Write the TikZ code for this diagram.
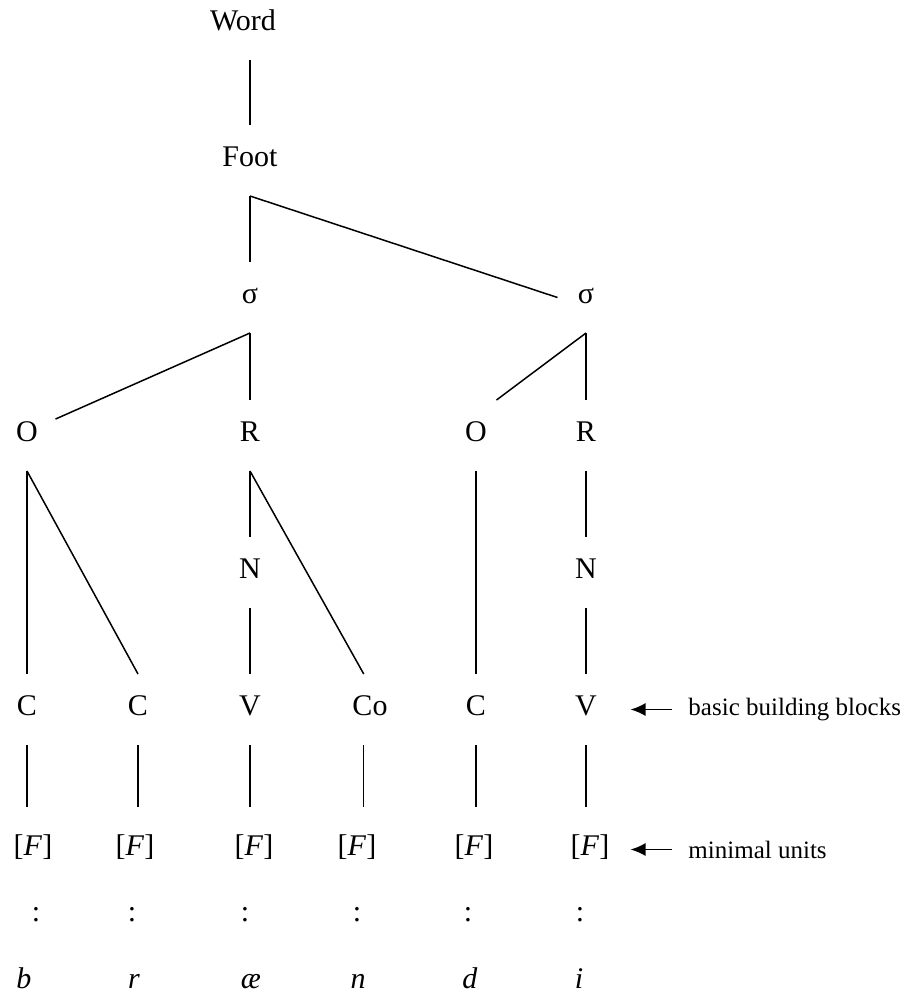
\documentclass[tikz,border=0pt]{standalone}
\usepackage{fontspec}
\setmainfont{Liberation Serif}
\usetikzlibrary{arrows.meta}

\begin{document}
\begin{tikzpicture}[x=0.4pt, y=-0.4pt,
    lab/.style={inner sep=0pt, minimum width=22.4pt, minimum height=28pt,
      text height=0.7em, text depth=0.2em, font=\fontsize{12}{14}\selectfont},
    flab/.style={lab, minimum height=33.6pt},
    note/.style={inner sep=0pt, anchor=west, font=\fontsize{10}{12}\selectfont},
    branch/.style={line width=0.6pt},
    pointer/.style={line width=0.7pt, -{Latex[length=6pt, width=5.2pt]}}]
  \useasboundingbox (0,0) rectangle (915,996);
  % Word and foot
  \node[lab] (word) at (243,24.5) {Word};
  \node[lab] (foot) at (250,160.5) {Foot};
  % Syllables
  \node[lab] (s1) at (250,297.5) {σ};
  \node[lab] (s2) at (586,297.5) {σ};
  % Onsets, rhymes, nuclei
  \node[lab] (o1) at (27,435.5) {O};
  \node[lab] (r1) at (250,435.5) {R};
  \node[lab] (o2) at (476,435.5) {O};
  \node[lab] (r2) at (586,435.5) {R};
  \node[lab] (n1) at (250,572.5) {N};
  \node[lab] (n2) at (586,572.5) {N};
  % Segments
  \node[lab] (c1) at (27,709.5) {C};
  \node[lab] (c2) at (138,709.5) {C};
  \node[lab] (v1) at (250,709.5) {V};
  \node[lab] (co) at (370,709.5) {Co};
  \node[lab] (c3) at (476,709.5) {C};
  \node[lab] (v2) at (586,709.5) {V};
  % Features, colons, sounds
  \foreach \x/\i in {33/1, 135/2, 254/3, 357/4, 474/5, 590/6}
    \node[flab] (f\i) at (\x,849.5) {[\textit{F}]};
  \foreach \x/\i in {36/1, 132/2, 245/3, 357/4, 468/5, 580/6}
    \node[lab] (k\i) at (\x,915.5) {:};
  \foreach \x/\i/\t in {24/1/b, 134/2/r, 251/3/æ, 358/4/n, 470/5/d, 579/6/i}
    \node[lab] (p\i) at (\x,982.5) {\textit{\t}};
  % Tree branches
  \draw[branch] (foot.north) -- (foot.north |- word.south);
  \draw[branch] (foot.south) -- (s1.north);
  \draw[branch] (foot.south) -- (s2.west);
  \draw[branch] (s1.south) -- (o1.30);
  \draw[branch] (s1.south) -- (r1.north);
  \draw[branch] (s2.south) -- (o2.60);
  \draw[branch] (s2.south) -- (r2.north);
  \draw[branch] (o1.south) -- (c1.north);
  \draw[branch] (o1.south) -- (c2.north);
  \draw[branch] (r1.south) -- (n1.north);
  \draw[branch] (r1.south) -- (co.100);
  \draw[branch] (n1.south) -- (v1.north);
  \draw[branch] (o2.south) -- (c3.north);
  \draw[branch] (r2.south) -- (n2.north);
  \draw[branch] (n2.south) -- (v2.north);
  \foreach \a/\b in {c1.south/f1, c2.south/f2, v1.south/f3, co.260/f4, c3.south/f5, v2.south/f6}
    \draw[branch] (\a) -- (\a |- \b.north);
  % Annotations
  \node[note] (blocks) at (688,709.5) {basic building blocks};
  \node[note] (units) at (688,849.5) {minimal units};
  \draw[pointer, shorten <=6.4pt, shorten >=6.4pt] (blocks.west) -- (v2.east);
  \draw[pointer, shorten <=6.4pt, shorten >=4.8pt] (units.west) -- (f6.east);
\end{tikzpicture}
\end{document}
